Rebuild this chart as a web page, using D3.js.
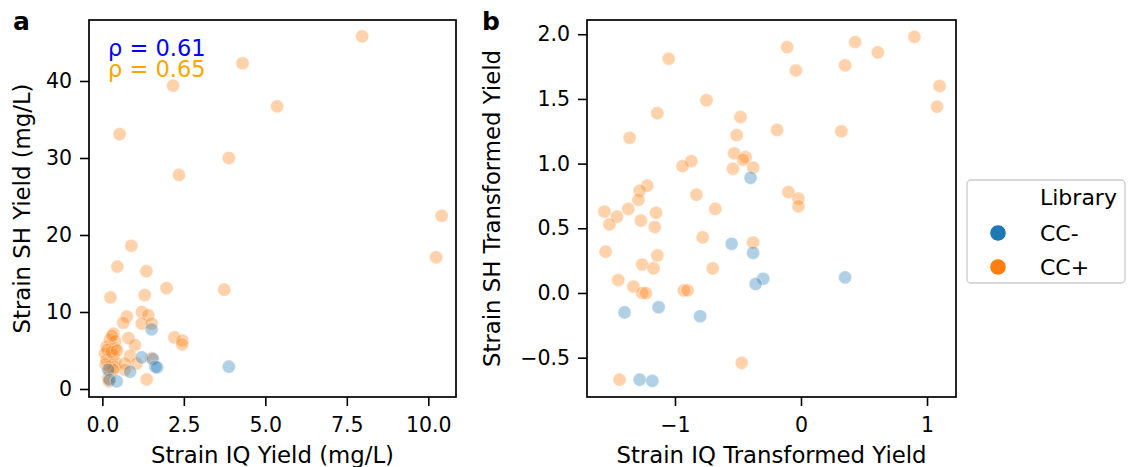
<!DOCTYPE html>
<html>
<head>
<meta charset="utf-8">
<script src="https://cdn.jsdelivr.net/npm/d3@7"></script>
<style>
  html, body { margin: 0; padding: 0; background: #fff; }
  svg { display: block; font-family: "DejaVu Sans", sans-serif; }
</style>
</head>
<body>
<svg id="chart" width="1128" height="467"></svg>
<script>
// ---------- DATA ----------
const libraries = ["CC-", "CC+"];
const libraryColors = ["#1f77b4", "#ff7f0e"];

// Panel a: raw yields (mg/L)
const aMinusX = [1.51, 1.21, 1.55, 1.62, 1.68, 3.88, 0.85, 0.18, 0.22, 0.44];
const aMinusY = [7.75, 4.1, 3.9, 2.9, 2.8, 2.9, 2.25, 2.5, 1.2, 1.0];
const aPlusX = [7.97, 4.30, 2.17, 5.36, 0.53, 3.88, 2.35, 10.41,
  10.24, 0.89, 0.46, 1.35, 0.25, 1.97, 3.74, 1.30,
  1.21, 1.41, 0.75, 0.64, 1.21, 1.51,
  0.34, 0.80, 2.21, 2.45, 2.45, 1.00,
  0.23, 0.39, 0.13, 0.39, 0.08, 0.34, 0.13, 0.39, 0.23, 0.39,
  0.85, 1.51, 1.05, 0.69, 0.69, 1.36, 0.18, 0.23, 0.33, 0.20,
  0.15, 0.28, 0.30, 0.10, 0.45];
const aPlusY = [45.8, 42.3, 39.4, 36.7, 33.1, 30.0, 27.8, 22.5,
  17.1, 18.6, 15.9, 15.3, 11.9, 13.1, 12.9, 12.2,
  10.0, 9.6, 9.4, 8.6, 8.5, 8.5,
  7.2, 6.6, 6.7, 6.3, 5.8, 5.7,
  6.4, 6.2, 5.5, 5.3, 4.6, 4.4, 3.8, 3.5, 2.9, 2.9,
  4.3, 4.0, 3.3, 3.3, 2.5, 1.25, 1.4, 2.3, 2.5, 1.0,
  5.1, 4.8, 6.9, 3.2, 5.0];
const aRhoMinus = "ρ = 0.61";
const aRhoPlus = "ρ = 0.65";

// Panel b: transformed yields
const bMinusX = [-0.40, -0.55, -0.38, -0.30, -0.36, 0.35, -1.40, -1.13, -0.80, -1.28, -1.18];
const bMinusY = [0.89, 0.38, 0.31, 0.11, 0.07, 0.12, -0.15, -0.11, -0.18, -0.67, -0.68];
const bPlusX = [-1.05, -0.11, -0.04, 0.43, 0.61, 0.90, 0.35, 1.10, 1.08, -0.75,
  -1.14, -0.48, -1.36, -0.51, -0.19, 0.32, -0.53, -0.44, -0.46, -0.38,
  -0.54, -0.87, -0.94, -1.22, -1.28, -1.29, -0.83, -0.68, -0.10, -0.02,
  -0.02, -1.56, -1.46, -1.37, -1.15, -1.27, -1.52, -1.16, -0.78, -0.38,
  -1.55, -1.14, -1.26, -1.17, -0.70, -1.45, -1.33, -1.26, -1.23, -0.93,
  -0.90, -0.47, -1.44];
const bPlusY = [1.81, 1.90, 1.72, 1.94, 1.86, 1.98, 1.76, 1.60, 1.44, 1.49,
  1.39, 1.36, 1.20, 1.22, 1.26, 1.25, 1.08, 1.05, 1.03, 0.97,
  0.96, 1.02, 0.98, 0.83, 0.79, 0.72, 0.76, 0.65, 0.78, 0.73,
  0.67, 0.63, 0.59, 0.65, 0.62, 0.56, 0.53, 0.51, 0.43, 0.39,
  0.32, 0.29, 0.22, 0.19, 0.19, 0.10, 0.05, 0.00, 0.00, 0.02,
  0.02, -0.54, -0.67];

const aXTicks = [0, 2.5, 5, 7.5, 10];
const aYTicks = [0, 10, 20, 30, 40];
const bXTicks = [-1, 0, 1];
const bYTicks = [-0.5, 0, 0.5, 1, 1.5, 2];

// ---------- LAYOUT ----------
const svg = d3.select("#chart");
const TICK_FS = 20.5, LABEL_FS = 22.8;
const plotTop = 20, plotBottom = 397;
const alpha = 0.35;

function panel(opts) {
  const { left, right, xDomain, yDomain, xTicks, yTicks, xFmt, yFmt, xLabel, yLabel, yLabelX, letter, letterX, series } = opts;
  const x = d3.scaleLinear().domain(xDomain).range([left, right]);
  const y = d3.scaleLinear().domain(yDomain).range([plotBottom, plotTop]);
  const g = svg.append("g");

  // points
  series.forEach(s => {
    const pts = d3.zip(s.xs, s.ys);
    g.append("g").selectAll("circle").data(pts).join("circle")
      .attr("cx", d => x(d[0]))
      .attr("cy", d => y(d[1]))
      .attr("r", 6.6)
      .attr("fill", s.color)
      .attr("fill-opacity", alpha)
      .attr("stroke", "#fff")
      .attr("stroke-opacity", alpha)
      .attr("stroke-width", 1.1);
  });

  // x axis
  const xa = g.append("g").attr("transform", `translate(0,${plotBottom})`)
    .call(d3.axisBottom(x).tickValues(xTicks).tickFormat(xFmt).tickSize(9).tickPadding(11));
  // y axis
  const ya = g.append("g").attr("transform", `translate(${left},0)`)
    .call(d3.axisLeft(y).tickValues(yTicks).tickFormat(yFmt).tickSize(9).tickPadding(8));
  [xa, ya].forEach(a => {
    a.select(".domain").remove();
    a.selectAll(".tick line").attr("stroke", "#000").attr("stroke-width", 1.6);
    a.selectAll(".tick text").attr("fill", "#000").style("font-size", TICK_FS + "px")
      .style("font-family", "DejaVu Sans");
  });

  // spines
  g.append("rect").attr("x", left).attr("y", plotTop)
    .attr("width", right - left).attr("height", plotBottom - plotTop)
    .attr("fill", "none").attr("stroke", "#000").attr("stroke-width", 1.7);

  // axis labels
  g.append("text").attr("x", (left + right) / 2).attr("y", 463)
    .attr("text-anchor", "middle").style("font-size", LABEL_FS + "px").text(xLabel);
  g.append("text").attr("transform", `translate(${yLabelX},${(plotTop + plotBottom) / 2}) rotate(-90)`)
    .attr("text-anchor", "middle").style("font-size", LABEL_FS + "px").text(yLabel);

  // panel letter
  g.append("text").attr("x", letterX).attr("y", 30)
    .style("font-size", "25px").style("font-weight", "bold").text(letter);
  return { x, y, g };
}

const fmt1 = d3.format(".1f");
const fmt0 = d3.format("d");

const pa = panel({
  left: 89, right: 456,
  xDomain: [-0.41, 10.85], yDomain: [-1.04, 47.92],
  xTicks: aXTicks, yTicks: aYTicks, xFmt: fmt1, yFmt: fmt0,
  xLabel: "Strain IQ Yield (mg/L)", yLabel: "Strain SH Yield (mg/L)",
  yLabelX: 30, letter: "a", letterX: 13,
  series: [
    { xs: aPlusX, ys: aPlusY, color: libraryColors[1] },
    { xs: aMinusX, ys: aMinusY, color: libraryColors[0] }
  ]
});

pa.g.append("text").attr("x", 108).attr("y", 56).attr("fill", "#0000ff")
  .style("font-size", "22.5px").text(aRhoMinus);
pa.g.append("text").attr("x", 108).attr("y", 77).attr("fill", "#ffa500")
  .style("font-size", "22.5px").text(aRhoPlus);

panel({
  left: 587, right: 956,
  xDomain: [-1.698, 1.230], yDomain: [-0.804, 2.110],
  xTicks: bXTicks, yTicks: bYTicks, xFmt: fmt0, yFmt: fmt1,
  xLabel: "Strain IQ Transformed Yield", yLabel: "Strain SH Transformed Yield",
  yLabelX: 500, letter: "b", letterX: 482,
  series: [
    { xs: bPlusX, ys: bPlusY, color: libraryColors[1] },
    { xs: bMinusX, ys: bMinusY, color: libraryColors[0] }
  ]
});

// ---------- LEGEND ----------
const lg = svg.append("g");
lg.append("rect").attr("x", 967).attr("y", 180).attr("width", 158).attr("height", 103)
  .attr("rx", 4).attr("fill", "#fff").attr("stroke", "#cccccc").attr("stroke-width", 1.3);
lg.append("text").attr("x", 1040).attr("y", 205).style("font-size", "22px").text("Library");
const legY = [233, 267];
libraries.forEach((name, i) => {
  lg.append("circle").attr("cx", 998).attr("cy", legY[i]).attr("r", 8.3)
    .attr("fill", libraryColors[i]).attr("stroke", "#fff").attr("stroke-width", 1);
  lg.append("text").attr("x", 1040).attr("y", legY[i] + 7.5).style("font-size", "22px").text(name);
});
</script>
</body>
</html>
